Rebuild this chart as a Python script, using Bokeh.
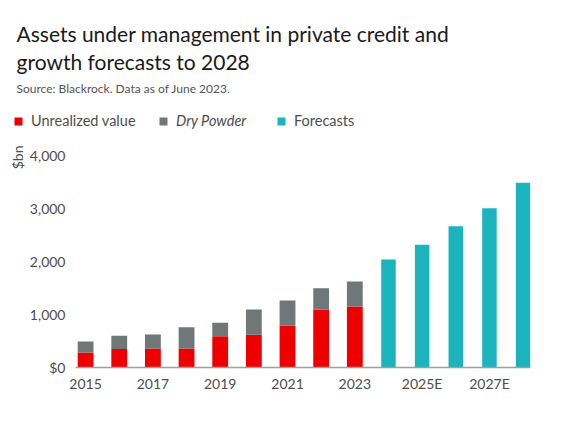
from bokeh.plotting import figure
from bokeh.layouts import column
from bokeh.models import (ColumnDataSource, Range1d, FixedTicker, Title, Legend,
                          LegendItem, Label)
from bokeh.embed import file_html
from bokeh.resources import INLINE

# ---- data ----
hist_years = [2015, 2016, 2017, 2018, 2019, 2020, 2021, 2022, 2023]
unrealized = [284, 348, 359, 359, 592, 618, 788, 1091, 1153]
dry_powder = [207, 251, 265, 403, 253, 478, 478, 409, 473]
fc_years = [2024, 2025, 2026, 2027, 2028]
forecasts = [2042, 2319, 2671, 3012, 3491]
x_ticks = [2015, 2017, 2019, 2021, 2023, 2025, 2027]
x_tick_labels = ["2015", "2017", "2019", "2021", "2023", "2025E", "2027E"]
y_ticks = [0, 1000, 2000, 3000, 4000]
y_tick_labels = ["$0", "1,000", "2,000", "3,000", "4,000"]
series_names = ["Unrealized value", "Dry Powder", "Forecasts"]
title_lines = ["Assets under management in private credit and",
               "growth forecasts to 2028"]
subtitle = "Source: Blackrock. Data as of June 2023."

RED = "#ec0000"
GREY = "#6f7779"
TEAL = "#1bb3bc"
FONT = "Lato"
TXT = "#4d4d4d"

W = 570
HEAD_H = 140

# ---------------- header (titles + legend) ----------------
h = figure(width=W, height=HEAD_H, output_backend="svg", toolbar_location=None,
           x_range=Range1d(0, W), y_range=Range1d(0, HEAD_H),
           min_border=0, outline_line_color=None, frame_align=False)
h.axis.visible = False
h.grid.visible = False

h.add_layout(Label(x=16, y=HEAD_H - 33, text=title_lines[0], text_font=FONT,
                   text_font_size="21px", text_color="#1a1a1a",
                   text_baseline="middle"))
h.add_layout(Label(x=16, y=HEAD_H - 61, text=title_lines[1], text_font=FONT,
                   text_font_size="21px", text_color="#1a1a1a",
                   text_baseline="middle"))
h.add_layout(Label(x=16, y=HEAD_H - 88, text=subtitle, text_font=FONT,
                   text_font_size="12px", text_color="#555555",
                   text_baseline="middle"))

lg_colors = [RED, GREY, TEAL]
lg_styles = ["normal", "italic", "normal"]
lg_x = [13, 158, 276]
for name, col, sty, vx in zip(series_names, lg_colors, lg_styles, lg_x):
    # zero-size proxy glyph, used only for its legend swatch
    rr = h.vbar(x=[0], top=[0], bottom=[0], width=0, fill_color=col,
                line_color=None)
    lg = Legend(items=[LegendItem(label=name, renderers=[rr])],
                location=(vx, 11), orientation="horizontal",
                glyph_width=10, glyph_height=10, label_standoff=8,
                label_text_font=FONT, label_text_font_size="14.5px",
                label_text_font_style=sty, label_text_color=TXT,
                background_fill_alpha=0, border_line_alpha=0,
                padding=0, margin=0, spacing=0)
    h.add_layout(lg, "center")

# ---------------- main chart ----------------
hist_top = [u + d for u, d in zip(unrealized, dry_powder)]
hist = ColumnDataSource(dict(x=hist_years, u=unrealized, t=hist_top))
fc = ColumnDataSource(dict(x=fc_years, f=forecasts))

p = figure(width=W, height=270, output_backend="svg", toolbar_location=None,
           x_range=Range1d(2014.70, 2028.22), y_range=Range1d(0, 4197),
           min_border_left=75, min_border_right=40, min_border_bottom=43,
           min_border_top=5, outline_line_color=None, frame_align=False)
p.xgrid.visible = False
p.ygrid.visible = False

p.vbar(x="x", top="u", bottom=0, width=0.47, source=hist,
       fill_color=RED, line_color=None)
p.vbar(x="x", top="t", bottom="u", width=0.47, source=hist,
       fill_color=GREY, line_color=None)
p.vbar(x="x", top="f", bottom=0, width=0.43, source=fc,
       fill_color=TEAL, line_color=None)

xa = p.xaxis[0]
xa.ticker = FixedTicker(ticks=x_ticks)
xa.major_label_overrides = {t: l for t, l in zip(x_ticks, x_tick_labels)}
xa.axis_line_color = "#9aa0a3"
xa.axis_line_width = 1.5
xa.major_tick_line_color = None
xa.minor_tick_line_color = None
xa.major_label_text_font = FONT
xa.major_label_text_font_size = "14px"
xa.major_label_text_color = TXT
xa.major_label_standoff = 1

ya = p.yaxis[0]
ya.ticker = FixedTicker(ticks=y_ticks)
ya.major_label_overrides = {t: l for t, l in zip(y_ticks, y_tick_labels)}
ya.axis_line_color = None
ya.major_tick_line_color = None
ya.minor_tick_line_color = None
ya.major_label_text_font = FONT
ya.major_label_text_font_size = "14px"
ya.major_label_text_color = TXT
ya.major_label_standoff = 4

p.add_layout(Title(text="$bn", align="right", text_font=FONT,
                   text_font_size="14px", text_font_style="normal",
                   text_color=TXT, standoff=2), "left")

layout = column(h, p, spacing=0)
open("out.html", "w").write(file_html(layout, INLINE))
